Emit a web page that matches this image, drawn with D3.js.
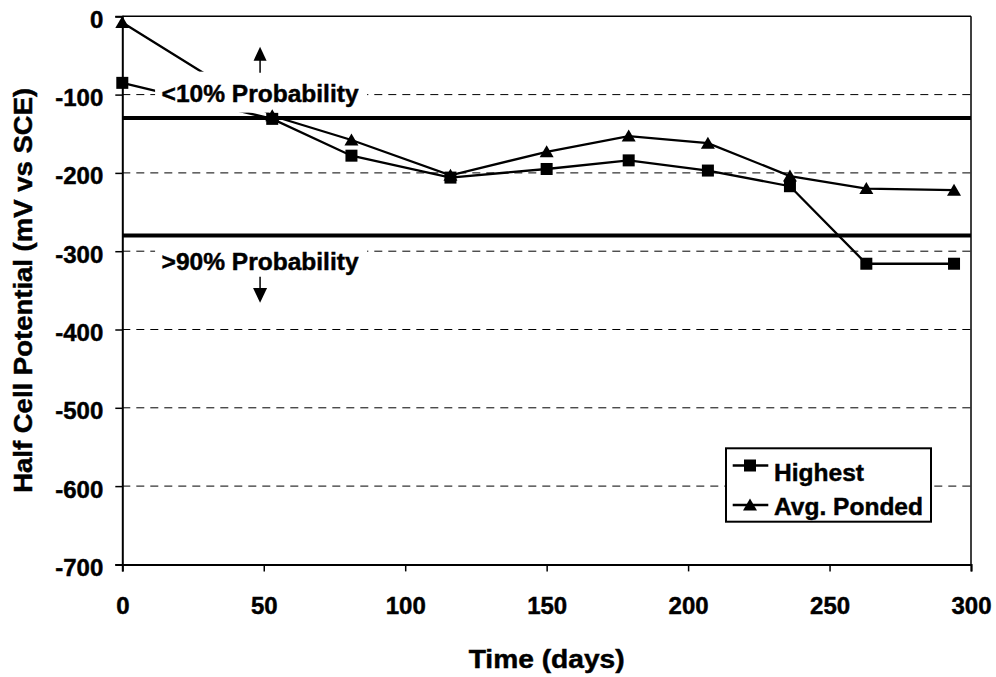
<!DOCTYPE html>
<html>
<head>
<meta charset="utf-8">
<script src="https://cdn.jsdelivr.net/npm/d3@7"></script>
<style>
  html, body { margin: 0; padding: 0; background: #fff; }
  svg { display: block; }
  text { font-family: "Liberation Sans", Arial, sans-serif; font-weight: bold; fill: #000; stroke: #000; stroke-width: 0.45px; }
</style>
</head>
<body>
<svg id="chart" width="996" height="677"></svg>
<script>
// ---- data ----
const days = [0, 53, 81, 116, 150, 179, 207, 236, 263, 294];
const highest = [-85, -131, -178, -206, -195, -184, -197, -217, -316, -316];
const avgPonded = [-8, -127, -158, -203, -173, -153, -162, -204, -220, -222];
const seriesNames = ["Highest", "Avg. Ponded"];
const xTicks = [0, 50, 100, 150, 200, 250, 300];
const yTicks = [0, -100, -200, -300, -400, -500, -600, -700];
const thresholds = [-130, -280];
const thresholdLabels = ["<10% Probability", ">90% Probability"];
const xTitle = "Time (days)";
const yTitle = "Half Cell Potential (mV vs SCE)";

// ---- layout ----
const svg = d3.select("#chart");
const pL = 122.3, pR = 971, pT = 16.3, pB = 564.4;
const x = d3.scaleLinear().domain([0, 300]).range([pL, pR]);
const y = d3.scaleLinear().domain([-700, 0]).range([pB, pT]);
const FF = '"Liberation Sans", Arial, sans-serif';

// gridlines (dashed)
svg.append("g").selectAll("line")
  .data(yTicks.filter(v => v !== 0 && v !== -700))
  .join("line")
  .attr("x1", pL).attr("x2", pR)
  .attr("y1", d => y(d)).attr("y2", d => y(d))
  .attr("stroke", "#000").attr("stroke-width", 1)
  .attr("stroke-dasharray", "8,6");

// plot border (top/right)
svg.append("line").attr("x1", pL).attr("x2", pR).attr("y1", pT).attr("y2", pT)
  .attr("stroke", "#000").attr("stroke-width", 1.5);
svg.append("line").attr("x1", pR).attr("x2", pR).attr("y1", pT).attr("y2", pB)
  .attr("stroke", "#000").attr("stroke-width", 1.5);

// axes
const yAxis = d3.axisLeft(y).tickValues(yTicks).tickSize(7).tickPadding(12).tickFormat(d3.format("d"));
const gy = svg.append("g").attr("transform", `translate(${pL},0)`).call(yAxis);
gy.select(".domain").attr("stroke", "#000").attr("stroke-width", 2);
gy.selectAll(".tick line").attr("stroke", "#000").attr("stroke-width", 1.5);
gy.selectAll(".tick text").attr("font-size", 24).attr("dy", "0.46em")
  .style("font-family", FF).style("font-weight", "bold")
  .text(d => d === 0 ? "0" : "-" + Math.abs(d));

const xAxis = d3.axisBottom(x).tickValues(xTicks).tickSize(7).tickPadding(26).tickFormat(d3.format("d"));
const gx = svg.append("g").attr("transform", `translate(0,${pB})`).call(xAxis);
gx.select(".domain").attr("stroke", "#000").attr("stroke-width", 2);
gx.selectAll(".tick line").attr("stroke", "#000").attr("stroke-width", 1.5);
gx.selectAll(".tick text").attr("font-size", 24).attr("dy", "0.71em")
  .style("font-family", FF).style("font-weight", "bold");

// threshold lines
svg.append("g").selectAll("line").data(thresholds).join("line")
  .attr("x1", pL).attr("x2", pR)
  .attr("y1", d => y(d)).attr("y2", d => y(d))
  .attr("stroke", "#000").attr("stroke-width", 4);

// series lines
const line = d3.line().x(d => x(d[0])).y(d => y(d[1]));
const s1 = days.map((d, i) => [d, highest[i]]);
const s2 = days.map((d, i) => [d, avgPonded[i]]);
svg.append("path").datum(s1).attr("d", line).attr("fill", "none").attr("stroke", "#000").attr("stroke-width", 2.3);
svg.append("path").datum(s2).attr("d", line).attr("fill", "none").attr("stroke", "#000").attr("stroke-width", 2.3);

// annotation labels with white boxes
const annX = x(48.7);
const annBase = [y(-109), y(-324)];
annBase.forEach((b, i) => {
  svg.append("rect").attr("x", annX - 105).attr("y", b - 30).attr("width", 212).attr("height", 41).attr("fill", "#fff");
  svg.append("text").attr("x", annX).attr("y", b).attr("text-anchor", "middle")
    .attr("font-size", 24).attr("textLength", 197).attr("lengthAdjust", "spacingAndGlyphs")
    .text(thresholdLabels[i]);
});
// arrows
const arrowG = svg.append("g");
arrowG.append("line").attr("x1", annX).attr("x2", annX).attr("y1", annBase[0] - 29).attr("y2", annBase[0] - 45)
  .attr("stroke", "#000").attr("stroke-width", 1.5);
arrowG.append("path").attr("d", `M${annX},${annBase[0] - 55} L${annX + 6.5},${annBase[0] - 41} L${annX - 6.5},${annBase[0] - 41} Z`).attr("fill", "#000");
arrowG.append("line").attr("x1", annX).attr("x2", annX).attr("y1", annBase[1] + 6.7).attr("y2", annBase[1] + 22)
  .attr("stroke", "#000").attr("stroke-width", 1.5);
arrowG.append("path").attr("d", `M${annX},${annBase[1] + 32.7} L${annX + 7},${annBase[1] + 18} L${annX - 7},${annBase[1] + 18} Z`).attr("fill", "#000");

// markers
const sq = 12;
svg.append("g").selectAll("rect").data(s1).join("rect")
  .attr("x", d => x(d[0]) - sq / 2).attr("y", d => y(d[1]) - sq / 2)
  .attr("width", sq).attr("height", sq).attr("fill", "#000");
const tri = "M0,-6.5 L7,5.5 L-7,5.5 Z";
svg.append("g").selectAll("path").data(s2).join("path")
  .attr("transform", d => `translate(${x(d[0])},${y(d[1])})`)
  .attr("d", tri).attr("fill", "#000");

// axis titles
svg.append("text").attr("x", (pL + pR) / 2).attr("y", 668).attr("text-anchor", "middle")
  .attr("font-size", 25).attr("textLength", 156).attr("lengthAdjust", "spacingAndGlyphs").text(xTitle);
svg.append("text").attr("transform", `translate(32,${(pT + pB) / 2}) rotate(-90)`)
  .attr("text-anchor", "middle").attr("font-size", 26)
  .attr("textLength", 405).attr("lengthAdjust", "spacingAndGlyphs").text(yTitle);

// legend
const lg = svg.append("g");
lg.append("rect").attr("x", 726).attr("y", 448.3).attr("width", 205).attr("height", 73.4)
  .attr("fill", "#fff").attr("stroke", "#000").attr("stroke-width", 2);
const rows = [{ ly: 465.5, ty: 481, w: 90 }, { ly: 505, ty: 515, w: 149 }];
rows.forEach((r, i) => {
  lg.append("line").attr("x1", 732.7).attr("x2", 768.3).attr("y1", r.ly).attr("y2", r.ly)
    .attr("stroke", "#000").attr("stroke-width", 2.3);
  if (i === 0) {
    lg.append("rect").attr("x", 750 - sq / 2).attr("y", r.ly - sq / 2).attr("width", sq).attr("height", sq).attr("fill", "#000");
  } else {
    lg.append("path").attr("transform", `translate(750,${r.ly})`).attr("d", tri).attr("fill", "#000");
  }
  lg.append("text").attr("x", 774).attr("y", r.ty).attr("font-size", 24)
    .attr("textLength", r.w).attr("lengthAdjust", "spacingAndGlyphs").text(seriesNames[i]);
});
</script>
</body>
</html>
